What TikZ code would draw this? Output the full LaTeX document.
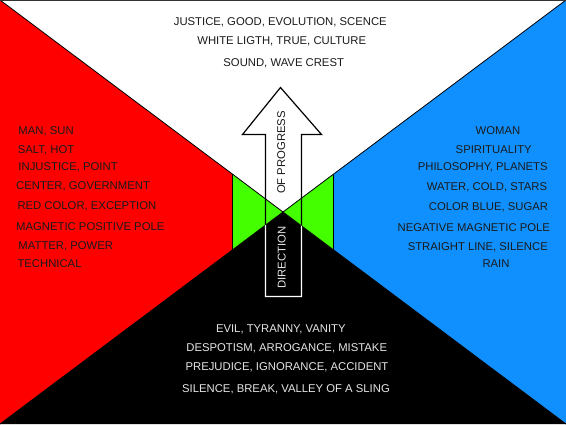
\documentclass[tikz,border=0pt]{standalone}
\usepackage{fontspec}
\setmainfont{Liberation Sans}
\usetikzlibrary{positioning,calc}
\definecolor{signred}{HTML}{FF0000}
\definecolor{signblue}{HTML}{1090FF}
\definecolor{signgreen}{HTML}{44FF00}
\definecolor{inkdark}{HTML}{1A1A1A}
\definecolor{inklight}{HTML}{E6E6E6}
\tikzset{
  word/.style={font=\fontsize{11.3}{13}\selectfont,text=inkdark,inner sep=0pt,text height=8.1pt,text depth=0pt},
  wordlight/.style={word,text=inklight},
  edge/.style={draw=black,line width=0.8pt},
}
\begin{document}
\begin{tikzpicture}[x=1pt,y=-1pt]
\useasboundingbox (0,0) rectangle (566,424);
\coordinate (tl) at (0,0);
\coordinate (tr) at (566,0);
\coordinate (bl) at (0,424);
\coordinate (br) at (566,424);
\coordinate (ctr) at (283,212);
% the four triangles
\fill[white] (tl)--(tr)--(ctr)--cycle;
\fill[signred] (tl)--(ctr)--(bl)--cycle;
\fill[signblue] (tr)--(ctr)--(br)--cycle;
\fill[black] (bl)--(ctr)--(br)--cycle;
% green band
\fill[signgreen] (232,173.8)--(ctr)--(232,250.2)--cycle;
\fill[signgreen] (333,174.5)--(ctr)--(333,249.5)--cycle;
\draw[edge] (232,173.8)--(232,250.2);
\draw[edge] (333,174.5)--(333,249.5);
\draw[edge] (tl)--(br);
\draw[edge] (tr)--(bl);
\draw[line width=2pt,black!80] (tl)--(tr);
% arrow
\coordinate (a1) at (265.5,296.5);
\coordinate (a2) at (265.5,134.5);
\coordinate (a3) at (242.5,134.5);
\coordinate (a4) at (280.5,87.5);
\coordinate (a5) at (321.5,134.5);
\coordinate (a6) at (301.5,134.5);
\coordinate (a7) at (301.5,296.5);
\draw[line width=1.2pt,line join=miter] (a1)--(a2)--(a3)--(a4)--(a5)--(a6)--(a7)--cycle;
\begin{scope}
\clip (bl)--(ctr)--(br)--cycle;
\draw[line width=1.2pt,white] (a1)--(a2)--(a3)--(a4)--(a5)--(a6)--(a7)--cycle;
\end{scope}
\node[word,rotate=90] (prog) at (281,152.5){OF PROGRESS};
\node[wordlight,rotate=90] (dir) at (281.5,257.5){DIRECTION};
% top
\node[word] (top1) at (280.3,21.7){JUSTICE, GOOD, EVOLUTION, SCENCE};
\node[word] (top2) at (281.7,40.7){WHITE LIGTH, TRUE, CULTURE};
\node[word] (top3) at (283.7,62.7){SOUND, WAVE CREST};
% left
\node[word,anchor=west] (man) at (18.3,130.7){MAN, SUN};
\node[word,anchor=west] (salt) at (17.7,149){SALT, HOT};
\node[word,anchor=west] (injust) at (18.3,166.7){INJUSTICE, POINT};
\node[word,anchor=west] (center) at (16,185.7){CENTER, GOVERNMENT};
\node[word,anchor=west] (redcol) at (17.3,205.7){RED COLOR, EXCEPTION};
\node[word,anchor=west] (pospole) at (16,226.7){MAGNETIC POSITIVE POLE};
\node[word,anchor=west] (matter) at (18.3,245.7){MATTER, POWER};
\node[word,anchor=west] (tech) at (17.3,263){TECHNICAL};
% right
\node[word] (woman) at (498,130.7){WOMAN};
\node[word] (spirit) at (493.7,149.7){SPIRITUALITY};
\node[word] (philo) at (482.8,166){PHILOSOPHY, PLANETS};
\node[word] (water) at (487,186){WATER, COLD, STARS};
\node[word] (bluecol) at (488.5,206.7){COLOR BLUE, SUGAR};
\node[word] (negpole) at (473.8,227.3){NEGATIVE MAGNETIC POLE};
\node[word] (straight) at (477.8,246){STRAIGHT LINE, SILENCE};
\node[word] (rain) at (496,263){RAIN};
% bottom
\node[wordlight] (evil) at (280.8,328.3){EVIL, TYRANNY, VANITY};
\node[wordlight] (despot) at (286.7,347.3){DESPOTISM, ARROGANCE, MISTAKE};
\node[wordlight] (prejud) at (287,366.7){PREJUDICE, IGNORANCE, ACCIDENT};
\node[wordlight] (silence) at (286,388.3){SILENCE, BREAK, VALLEY OF A SLING};
\end{tikzpicture}
\end{document}
